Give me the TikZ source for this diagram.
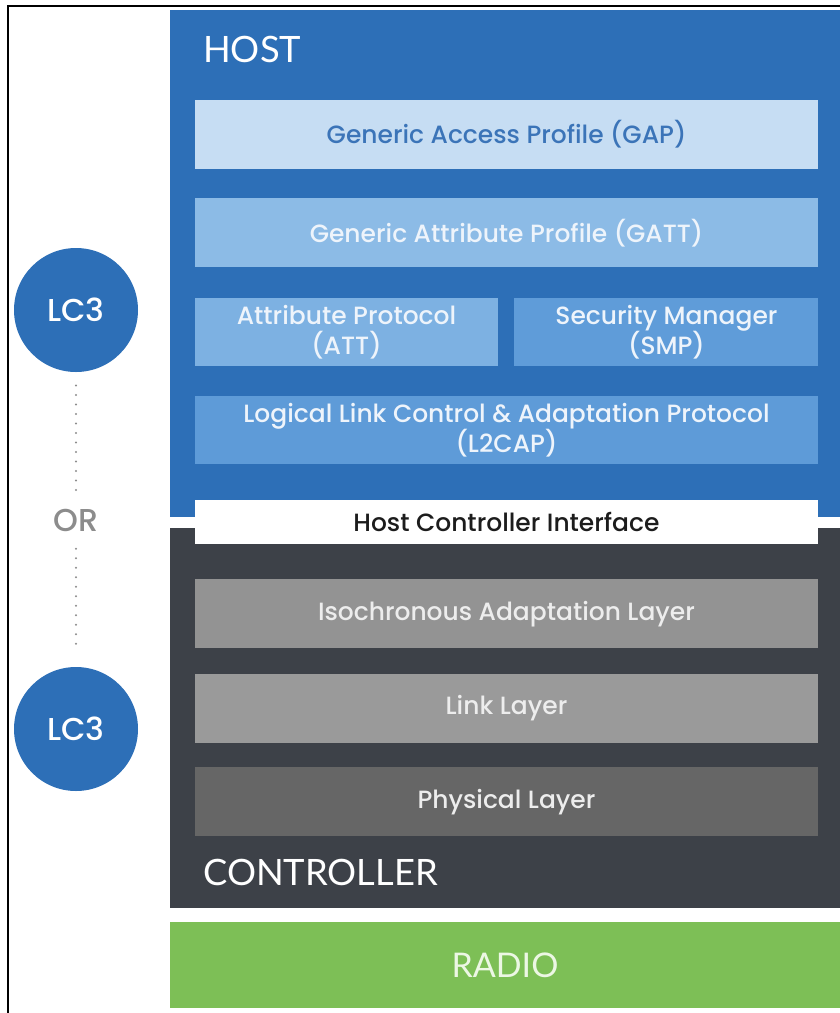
\documentclass[tikz,border=0pt]{standalone}
\usepackage{fontspec}
\setmainfont{Lato}
\newfontfamily\boxfont{Poppins Medium}
\usepackage{tikz}
\usetikzlibrary{positioning}
\definecolor{HostBlue}{HTML}{2D6FB7}
\definecolor{GapFill}{HTML}{C6DDF3}
\definecolor{GapText}{HTML}{3B74B8}
\definecolor{GattFill}{HTML}{8CBBE6}
\definecolor{AttFill}{HTML}{7DB1E2}
\definecolor{SmpFill}{HTML}{5F9CD9}
\definecolor{L2capFill}{HTML}{5E9BD8}
\definecolor{HostText}{HTML}{EEF4FB}
\definecolor{CtrlGray}{HTML}{3D4148}
\definecolor{IsoFill}{HTML}{939393}
\definecolor{LinkFill}{HTML}{9A9A9A}
\definecolor{PhyFill}{HTML}{666666}
\definecolor{CtrlText}{HTML}{EDEDED}
\definecolor{HciText}{HTML}{1C1C1C}
\definecolor{RadioGreen}{HTML}{7DBF56}
\definecolor{RadioText}{HTML}{ECF7E4}
\definecolor{DotGray}{HTML}{8C8C8C}

\begin{document}
\begin{tikzpicture}[
    layer/.style={rectangle,minimum width=18.69cm,minimum height=2.07cm,inner sep=0pt,align=center,font=\boxfont\fontsize{21.3}{26}\selectfont,text=HostText},
    half/.style={layer,minimum width=9.09cm,minimum height=2.04cm},
    title/.style={anchor=base west,inner sep=0pt,font=\fontsize{31}{36}\selectfont,text=white},
    codec/.style={circle,fill=HostBlue,minimum size=3.72cm,inner sep=0pt,text=white,font=\boxfont\fontsize{27}{31}\selectfont},
    dots/.style={draw=DotGray,line width=2pt,dash pattern=on 0pt off 2.85mm,line cap=round}
]
\useasboundingbox (0,0) rectangle (25.2,-30.39);
\draw[line width=1.2pt] (0.24,-30.39) -- (0.24,-0.18) -- (25.2,-0.18);

% host and controller blocks
\fill[HostBlue] (5.1,-0.3) rectangle (25.2,-15.51);
\fill[CtrlGray] (5.1,-15.84) rectangle (25.2,-27.24);
\node[title] (host) at (6.09,-1.86) {HOST};
\node[title] (ctrl) at (6.09,-26.55) {CONTROLLER};

% host layers
\node[layer,fill=GapFill,text=GapText] (gap) at (15.195,-4.035) {Generic Access Profile (GAP)};
\node[layer,fill=GattFill,below=0.87cm of gap] (gatt) {Generic Attribute Profile (GATT)};
\node[half,fill=AttFill,below=0.9cm of gatt.south west,anchor=north west] (att) {Attribute Protocol\\(ATT)};
\node[half,fill=SmpFill,minimum width=9.12cm,right=0.48cm of att] (smp) {Security Manager\\(SMP)};
\node[layer,fill=L2capFill,minimum height=2.04cm,below=0.9cm of att.south west,anchor=north west] (l2cap) {Logical Link Control \& Adaptation Protocol\\(L2CAP)};
\node[layer,fill=white,text=HciText,minimum height=1.32cm,below=1.05cm of l2cap] (hci) {Host Controller Interface};

% controller layers
\node[layer,fill=IsoFill,text=CtrlText,below=1.05cm of hci] (iso) {Isochronous Adaptation Layer};
\node[layer,fill=LinkFill,text=CtrlText,below=0.75cm of iso] (link) {Link Layer};
\node[layer,fill=PhyFill,text=CtrlText,below=0.72cm of link] (phy) {Physical Layer};
\node[layer,fill=RadioGreen,text=RadioText,minimum width=20.1cm,minimum height=2.58cm,font=\fontsize{29}{34}\selectfont] (radio) at (15.15,-28.95) {RADIO};

% codec options
\node[codec] (lc3a) at (2.28,-9.3) {LC3};
\node[codec] (lc3b) at (2.28,-21.87) {LC3};
\node[text=DotGray,font=\boxfont\fontsize{27}{31}\selectfont] (or) at (2.28,-15.6) {OR};
\draw[dots,shorten <=0.4cm,shorten >=0.4cm] (lc3a) -- (or);
\draw[dots,shorten <=0.4cm,shorten >=0.45cm] (or) -- (lc3b);
\end{tikzpicture}
\end{document}
